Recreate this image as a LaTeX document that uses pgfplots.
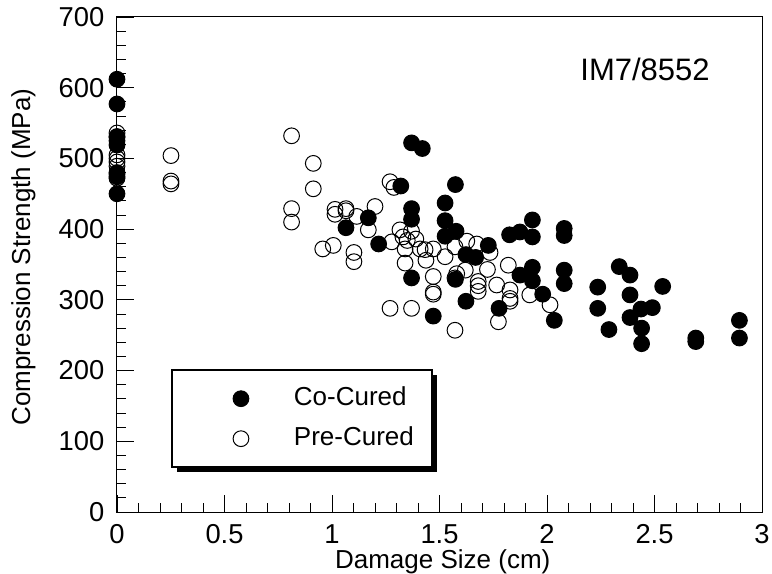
\documentclass[border=0pt]{standalone}
\usepackage{fontspec}
\setmainfont{Liberation Sans}
\usepackage{pgfplots}
\pgfplotsset{compat=1.18}
\usetikzlibrary{shadows}
\pgfplotsset{
  mylegimg/.style={legend image code/.code={%
    \pgfpathrectangle{\pgfqpoint{0pt}{-6pt}}{\pgfqpoint{78pt}{12pt}}\pgfusepath{}%
    \draw[mark repeat=2,mark phase=2,##1] plot coordinates {(0pt,0pt) (38.25pt,0pt) (78pt,0pt)};}},
}
\begin{document}
\begin{tikzpicture}
\begin{axis}[
  name=ax,
  scale only axis, width=483.75pt, height=371.25pt,
  xmin=0, xmax=3, ymin=0, ymax=700,
  xtick={0,0.5,1,1.5,2,2.5,3}, ytick={0,100,...,700},
  minor x tick num=4, minor y tick num=4,
  tick pos=left, tick align=inside,
  major tick length=12.75pt, minor tick length=6.75pt,
  axis line style={line width=0.75pt},
  every tick/.style={black, line width=0.6pt},
  clip=false,
  /pgf/number format/assume math mode=true,
  tick label style={font=\fontsize{20.5}{24}\selectfont},
  every x tick label/.append style={anchor=north, yshift=-6pt},
  yticklabel shift=6pt,
  xlabel={Damage Size (cm)},
  xlabel style={at={(axis description cs:0.505,-0.1)}, anchor=center, font=\fontsize{19.5}{22}\selectfont},
  ylabel={Compression Strength (MPa)},
  ylabel style={at={(axis description cs:-0.145,0.515)}, anchor=center, font=\fontsize{19.5}{22}\selectfont},
  legend cell align=left,
  mylegimg,
  legend style={at={(axis cs:0.251,202)}, anchor=north west, draw=black, line width=1.5pt, fill=white,
    inner xsep=13.5pt, inner ysep=6.4pt,
    drop shadow={shadow xshift=3.75pt, shadow yshift=-3.75pt, fill=black, opacity=1},
    nodes={inner sep=0pt, text height=20pt, text depth=10pt, font=\fontsize{19.5}{22}\selectfont},
    row sep=0pt, column sep=0pt},
]
% Pre-Cured (open circles), drawn first
\addplot[only marks, mark=o, mark size=5.9pt, line width=0.75pt, black, forget plot] coordinates {
(0,536) (0,530) (0,505) (0,500) (0,495) (0,489) (0,478) (0,472)
(0.251,504) (0.251,468) (0.251,464)
(0.812,532) (0.812,429) (0.812,410)
(0.913,493) (0.913,457)
(0.957,372) (1.006,377)
(1.014,428) (1.014,421) (1.065,429) (1.065,426) (1.115,418)
(1.102,367) (1.102,354)
(1.2,432) (1.169,399)
(1.27,467) (1.288,459) (1.278,382) (1.27,288)
(1.316,399) (1.33,389) (1.34,372) (1.34,352) (1.35,384) (1.37,397) (1.37,288) (1.39,386) (1.41,372)
(1.437,356) (1.433,371) (1.471,372) (1.471,333) (1.471,311) (1.471,308)
(1.526,361) (1.572,375) (1.58,337) (1.572,331) (1.572,257)
(1.627,383) (1.62,342) (1.673,379) (1.68,326) (1.68,320) (1.68,312)
(1.723,343) (1.735,367) (1.766,321) (1.774,269)
(1.82,349) (1.828,314) (1.828,302) (1.828,298)
(1.92,307) (2.014,293)
};
% Co-Cured (filled circles)
\addplot[only marks, mark=*, mark size=5.9pt, line width=0.75pt, black, mark options={fill=black}, mylegimg] coordinates {
(0,612) (0,577) (0,531) (0,525) (0,519) (0,480) (0,474) (0,450)
(1.065,402) (1.169,416) (1.217,379) (1.32,461) (1.37,522) (1.42,514)
(1.37,429) (1.37,414) (1.37,331) (1.471,277)
(1.526,437) (1.526,412) (1.526,390) (1.574,463) (1.577,397) (1.574,329)
(1.623,364) (1.623,298) (1.668,360) (1.727,377) (1.777,288)
(1.826,392) (1.874,396) (1.874,335)
(1.932,413) (1.932,389) (1.932,346) (1.932,327) (1.98,308) (2.034,271)
(2.08,401) (2.08,391) (2.08,342) (2.08,323)
(2.236,318) (2.236,288) (2.288,258) (2.336,347)
(2.386,335) (2.386,307) (2.386,275)
(2.437,287) (2.44,260) (2.44,238) (2.49,289) (2.538,319)
(2.692,246) (2.692,241) (2.895,271) (2.895,246)
};
\addlegendentry{Co-Cured}
\addlegendimage{only marks, mark=o, mark size=5.9pt, line width=0.75pt, black, mylegimg}
\addlegendentry{Pre-Cured}
\node[anchor=base, font=\fontsize{23.25}{26}\selectfont] at (axis cs:2.456,610) {IM7/8552};
\end{axis}
\pgfresetboundingbox
\path ([xshift=-87.75pt,yshift=-45.75pt]ax.south west) rectangle ([xshift=7.5pt,yshift=12.75pt]ax.north east);
\end{tikzpicture}
\end{document}
